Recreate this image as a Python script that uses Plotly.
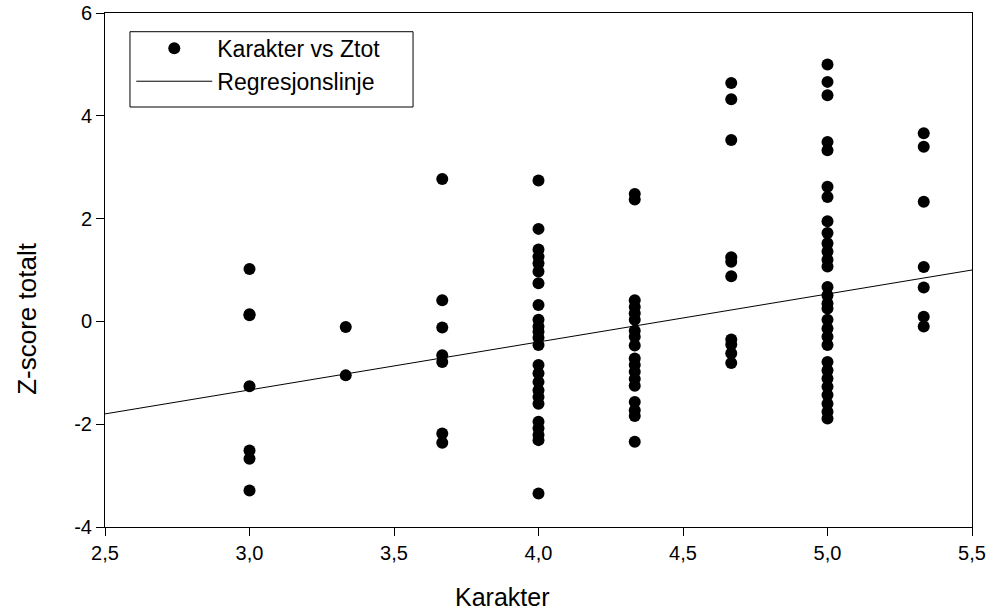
import plotly.graph_objects as go

# Karakter levels (x) and Z-score totals (y)
karakter_levels = [3.0, 3.333, 3.667, 4.0, 4.333, 4.667, 5.0, 5.333]
z_3_0 = [1.02, 0.14, 0.12, -1.26, -2.51, -2.67, -3.29]
z_3_33 = [-0.11, -1.05]
z_3_67 = [2.77, 0.41, -0.12, -0.66, -0.79, -2.18, -2.36]
z_4_0 = [2.74, 1.80, 1.40, 1.26, 1.13, 0.97, 0.74, 0.32, 0.03, -0.10, -0.20,
         -0.32, -0.46, -0.85, -1.01, -1.18, -1.34, -1.47, -1.60, -1.95, -2.08,
         -2.21, -2.31, -3.35]
z_4_33 = [2.48, 2.37, 0.41, 0.28, 0.16, 0.03, -0.18, -0.30, -0.47, -0.72,
          -0.85, -0.98, -1.12, -1.25, -1.57, -1.73, -1.84, -2.34]
z_4_67 = [4.64, 4.32, 3.53, 1.25, 1.16, 0.88, -0.35, -0.45, -0.62, -0.81]
z_5_0 = [5.00, 4.66, 4.40, 3.49, 3.33, 2.62, 2.42, 1.95, 1.72, 1.52, 1.36,
         1.20, 1.07, 0.67, 0.51, 0.35, 0.25, 0.03, -0.14, -0.30, -0.46, -0.79,
         -0.95, -1.11, -1.27, -1.43, -1.60, -1.76, -1.89]
z_5_33 = [3.66, 3.40, 2.33, 1.06, 0.66, 0.09, -0.10]

z_groups = [z_3_0, z_3_33, z_3_67, z_4_0, z_4_33, z_4_67, z_5_0, z_5_33]

# Regression line end points
reg_x = [2.5, 5.5]
reg_y = [-1.80, 1.00]

x_ticks = [2.5, 3.0, 3.5, 4.0, 4.5, 5.0, 5.5]
x_tick_labels = ["2,5", "3,0", "3,5", "4,0", "4,5", "5,0", "5,5"]
y_ticks = [-4, -2, 0, 2, 4, 6]
y_tick_labels = ["-4", "-2", "0", "2", "4", "6"]

x_title = "Karakter"
y_title = "Z-score totalt"

xs, ys = [], []
for k, grp in zip(karakter_levels, z_groups):
    for z in grp:
        xs.append(k)
        ys.append(z)

FONT = "Liberation Sans, Arial, sans-serif"

fig = go.Figure()
fig.add_trace(go.Scatter(
    x=xs, y=ys, mode="markers", name="Karakter vs Ztot",
    marker=dict(color="black", size=12, line=dict(width=0)),
))
fig.add_trace(go.Scatter(
    x=reg_x, y=reg_y, mode="lines", name="Regresjonslinje",
    line=dict(color="black", width=1),
))

axis_common = dict(
    showgrid=False, zeroline=False, showline=True, linecolor="black",
    linewidth=1, mirror=True, ticks="outside", ticklen=8, tickwidth=1,
    tickcolor="black", tickfont=dict(family=FONT, size=20, color="black"),
    automargin=False,
)

fig.update_layout(
    width=991, height=611,
    margin=dict(l=105, r=19, t=13, b=84),
    paper_bgcolor="white", plot_bgcolor="white",
    showlegend=True,
    legend=dict(
        x=0.0303, y=0.973, xanchor="left", yanchor="top",
        bgcolor="rgba(0,0,0,0)", borderwidth=0,
        font=dict(family=FONT, size=23, color="black"),
        itemwidth=76,
    ),
    xaxis=dict(range=[2.5, 5.5], tickvals=x_ticks, ticktext=x_tick_labels,
               **axis_common),
    yaxis=dict(range=[-4, 6], tickvals=y_ticks, ticktext=y_tick_labels,
               **axis_common),
    shapes=[dict(
        type="rect", xref="paper", yref="paper",
        x0=0.0288, x1=0.3553, y0=0.8171, y1=0.9636,
        line=dict(color="black", width=1), fillcolor="white", layer="above",
    )],
    annotations=[
        dict(text=x_title, xref="paper", yref="paper", x=0.458, y=-0.136,
             xanchor="center", yanchor="middle", showarrow=False,
             font=dict(family=FONT, size=25, color="black")),
        dict(text=y_title, xref="paper", yref="paper", x=-0.09, y=0.405,
             xanchor="center", yanchor="middle", showarrow=False, textangle=-90,
             font=dict(family=FONT, size=26, color="black")),
    ],
)

fig.write_html("out.html")
